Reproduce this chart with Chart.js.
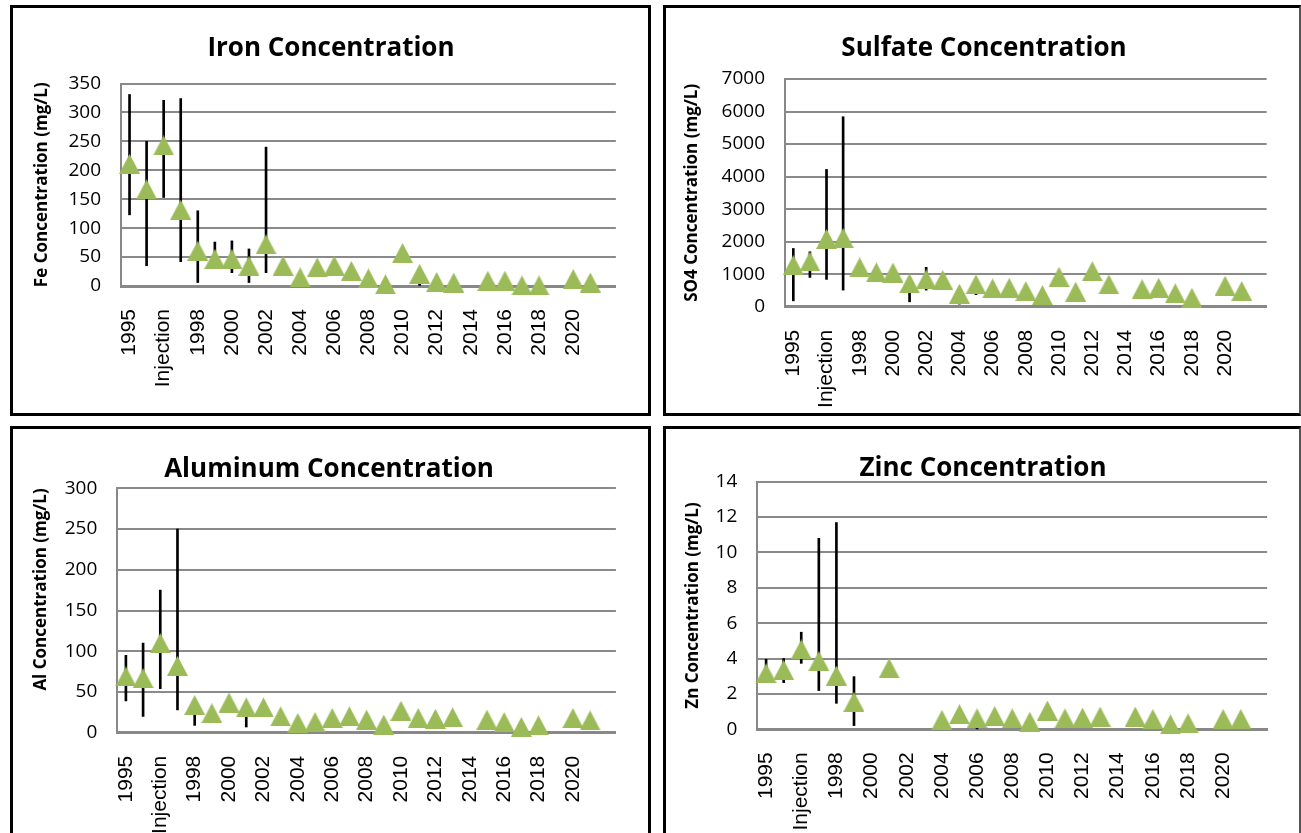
<!DOCTYPE html>
<html>
<head>
<meta charset="utf-8">
<title>Concentrations</title>
<script src="https://cdn.jsdelivr.net/npm/chart.js@4.4.1/dist/chart.umd.min.js"></script>
<style>
  html, body { margin: 0; padding: 0; background: #fff; }
  body { width: 1301px; height: 833px; position: relative; overflow: hidden; }
  .panel { position: absolute; box-sizing: border-box; border: 3px solid #000; background: #fff; }
  .panel canvas { position: absolute; left: 0; top: 0; }
  .title { position: absolute; font: bold 26px 'Open Sans', sans-serif; line-height: 26px; white-space: nowrap; transform: translateX(-50%); color: #000; }
</style>
</head>
<body>
<div class="panel" style="left:10px;top:5px;width:641px;height:411px">
  <canvas id="ironChart" width="635" height="405"></canvas>
  <div class="title" style="left:318px;top:25px">Iron Concentration</div>
</div>
<div class="panel" style="left:663px;top:5px;width:638px;height:411px;border-right:2px solid #555">
  <canvas id="sulfateChart" width="633" height="405"></canvas>
  <div class="title" style="left:318px;top:25px">Sulfate Concentration</div>
</div>
<div class="panel" style="left:10px;top:426px;width:641px;height:420px">
  <canvas id="aluminumChart" width="635" height="404"></canvas>
  <div class="title" style="left:316px;top:25px">Aluminum Concentration</div>
</div>
<div class="panel" style="left:663px;top:426px;width:638px;height:420px;border-right:2px solid #555">
  <canvas id="zincChart" width="633" height="404"></canvas>
  <div class="title" style="left:317px;top:24px">Zinc Concentration</div>
</div>

<script>
// categories (last one is an empty slot at the end of the axis)
const categories = ['1995', '1996', 'Injection', '1997', '1998', '1999', '2000', '2001', '2002', '2003',
  '2004', '2005', '2006', '2007', '2008', '2009', '2010', '2011', '2012', '2013',
  '2014', '2015', '2016', '2017', '2018', '2019', '2020', '2021', ''];
const tickLabels = ['1995', '', 'Injection', '', '1998', '', '2000', '', '2002', '',
  '2004', '', '2006', '', '2008', '', '2010', '', '2012', '',
  '2014', '', '2016', '', '2018', '', '2020', '', ''];

// Fe (mg/L)
const ironValues = [211, 167, 243, 132, 61, 47, 47, 35, 72, 35, 15, 32, 35, 26, 13, 3, 57, 21, 7, 6, null, 9, 9, 1, 1, null, 12, 6, null];
const ironLow  = [123, 35, 153, 42, 6, 32, 23, 6, 23, null, null, null, null, null, null, null, null, 1, null, null, null, null, null, null, null, null, null, null, null];
const ironHigh = [331, 250, 321, 324, 130, 76, 78, 64, 240, null, null, null, null, null, null, null, null, 20, null, null, null, null, null, null, null, null, null, null, null];

// SO4 (mg/L)
const sulfateValues = [1280, 1390, 2085, 2115, 1210, 1055, 1050, 715, 840, 820, 400, 685, 560, 580, 480, 355, 920, 460, 1090, 685, null, 540, 580, 410, 275, null, 645, 480, null];
const sulfateLow  = [180, 900, 840, 510, null, null, null, 150, 510, null, 80, 370, null, null, null, null, null, null, null, null, null, null, null, null, null, null, null, null, null];
const sulfateHigh = [1790, 1690, 4220, 5840, null, null, null, 900, 1210, null, 450, 700, null, null, null, null, null, null, null, null, null, null, null, null, null, null, null, null, null];

// Al (mg/L)
const aluminumValues = [69, 67, 110, 82, 34, 24, 37, 31, 31, 20, 12, 13, 18, 20, 16, 10, 27, 18, 17, 19, null, 16, 13, 7, 9, null, 18, 15, null];
const aluminumLow  = [39, 20, 54, 28, 9, null, null, 7, null, null, null, 0, null, null, null, null, null, null, null, null, null, null, null, null, null, null, null, null, null];
const aluminumHigh = [95, 110, 175, 250, 40, null, null, 35, null, null, null, 13, null, null, null, null, null, null, null, null, null, null, null, null, null, null, null, null, null];

// Zn (mg/L)
const zincValues = [3.17, 3.36, 4.52, 3.86, 3.04, 1.56, null, 3.45, null, null, 0.53, 0.85, 0.62, 0.75, 0.62, 0.43, 1.06, 0.62, 0.66, 0.72, null, 0.72, 0.58, 0.28, 0.34, null, 0.58, 0.58, null];
const zincLow  = [2.9, 2.64, 3.73, 2.19, 1.47, 0.21, null, null, null, null, null, null, 0.02, null, null, null, null, null, null, null, null, null, null, null, null, null, null, null, null];
const zincHigh = [3.96, 4.0, 5.49, 10.8, 11.69, 2.98, null, null, null, null, null, null, 0.6, null, null, null, null, null, null, null, null, null, null, null, null, null, null, null, null];

Chart.defaults.font.family = "'Open Sans', sans-serif";

// excel-like triangle, box centered on the value
function triangleMarker() {
    const c = document.createElement('canvas');
    c.width = 21;
    c.height = 20;
    const ctx = c.getContext('2d');
    ctx.fillStyle = '#9BBB59';
    ctx.beginPath();
    ctx.moveTo(10.5, 0);
    ctx.lineTo(21, 20);
    ctx.lineTo(0, 20);
    ctx.closePath();
    ctx.fill();
    return c;
}
const marker = triangleMarker();

function createConcentrationChart(canvasId, values, low, high, yMax, yStep, yTitle, box) {
    const canvas = document.getElementById(canvasId);
    const ranges = low.map((l, i) => (l === null ? null : [l, high[i]]));

    const config = {
        type: 'line',
        data: {
            labels: categories,
            datasets: [{
                type: 'line',
                data: values,
                showLine: false,
                pointStyle: marker,
                pointRadius: 10,
                clip: false,
                order: 1
            }, {
                type: 'bar',
                data: ranges,
                backgroundColor: '#000',
                borderWidth: 0,
                barThickness: 2,
                clip: false,
                order: 2
            }]
        },
        options: {
            responsive: false,
            animation: false,
            events: [],
            layout: {
                padding: {left: 0, right: box.right, top: box.top, bottom: 0}
            },
            plugins: {
                legend: {display: false},
                tooltip: {enabled: false}
            },
            scales: {
                x: {
                    type: 'category',
                    offset: true,
                    grid: {display: false},
                    border: {color: '#888', width: 3},
                    ticks: {
                        autoSkip: false,
                        minRotation: 90,
                        maxRotation: 90,
                        padding: 15,
                        color: '#000',
                        font: {family: "'Liberation Sans', Arial, sans-serif", size: 21},
                        callback: (v, i) => tickLabels[i]
                    },
                    afterFit: s => { s.height = canvas.height - box.bottom; }
                },
                y: {
                    min: 0,
                    max: yMax,
                    grid: {color: '#8a8a8a', lineWidth: 2, drawTicks: false},
                    border: {color: '#888', width: 2},
                    ticks: {
                        stepSize: yStep,
                        padding: 20,
                        color: '#000',
                        font: {size: 19},
                        callback: v => String(v)
                    },
                    title: {
                        display: true,
                        text: yTitle,
                        color: '#000',
                        align: box.titleAlign,
                        padding: {top: box.titlePad, bottom: 0},
                        font: {size: 17, weight: 'bold'}
                    },
                    afterFit: s => { s.width = box.left; }
                }
            }
        }
    };

    new Chart(canvas, config);
}

createConcentrationChart('ironChart', ironValues, ironLow, ironHigh, 350, 50, 'Fe Concentration (mg/L)',
    {left: 108, top: 75.5, bottom: 278, right: 28, titlePad: 19, titleAlign: 'center'});
createConcentrationChart('sulfateChart', sulfateValues, sulfateLow, sulfateHigh, 7000, 1000, 'SO4 Concentration (mg/L)',
    {left: 119, top: 71, bottom: 298.7, right: 27, titlePad: 16, titleAlign: 'center'});
createConcentrationChart('aluminumChart', aluminumValues, aluminumLow, aluminumHigh, 300, 50, 'Al Concentration (mg/L)',
    {left: 104.3, top: 59.3, bottom: 303.7, right: 28, titlePad: 18, titleAlign: 'end'});
createConcentrationChart('zincChart', zincValues, zincLow, zincHigh, 14, 2, 'Zn Concentration (mg/L)',
    {left: 91.3, top: 52.7, bottom: 300.3, right: 26.7, titlePad: 17, titleAlign: 'center'});
</script>
</body>
</html>
